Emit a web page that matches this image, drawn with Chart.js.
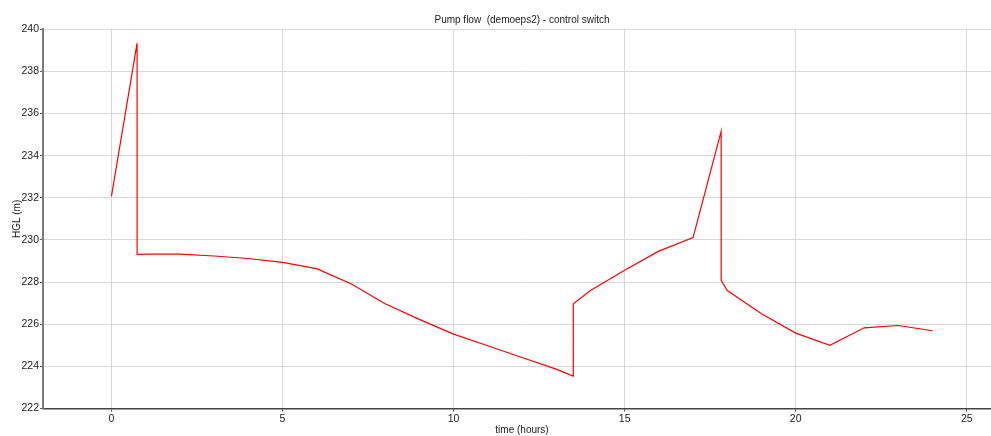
<!DOCTYPE html>
<html>
<head>
<meta charset="utf-8">
<title>Pump flow (demoeps2) - control switch</title>
<script src="https://cdn.jsdelivr.net/npm/chart.js@4/dist/chart.umd.min.js"></script>
<style>
    html, body { margin: 0; padding: 0; background: #fff; overflow: hidden; }
    #hglChart { display: block; }
</style>
</head>
<body>
<canvas id="hglChart" width="1001" height="436"></canvas>
<script>
// Simulation times (hours) and HGL values (m)
const timeHours = [0, 0.75, 0.75, 1, 2, 3, 4, 5, 6, 7, 8, 9, 10, 11, 12, 13, 13.5, 13.5,
    14, 15, 16, 17, 17.82, 17.82, 18, 19, 20, 21, 22, 23, 24];
const hglValues = [232.07, 239.34, 229.32, 229.33, 229.33, 229.24, 229.12, 228.94, 228.64,
    227.92, 226.97, 226.23, 225.53, 224.98, 224.42, 223.87, 223.54, 226.97,
    227.6, 228.56, 229.47, 230.11, 235.16, 228.08, 227.6, 226.5, 225.58, 225.0,
    225.83, 225.94, 225.69];

const xTickValues = [0, 5, 10, 15, 20, 25];
const yTickValues = [222, 224, 226, 228, 230, 232, 234, 236, 238, 240];

const FONT = 'Liberation Sans, Arial, Helvetica, sans-serif';

document.addEventListener('DOMContentLoaded', function() {
    initializeHglChart();
});

function initializeHglChart() {
    const ctx = document.getElementById('hglChart');
    const points = timeHours.map((t, i) => ({ x: t, y: hglValues[i] }));

    new Chart(ctx, {
        type: 'line',
        data: {
            datasets: [{
                label: 'HGL',
                data: points,
                borderColor: '#ff0000',
                borderWidth: 1.2,
                pointRadius: 0,
                tension: 0,
                fill: false
            }]
        },
        options: {
            responsive: false,
            animation: false,
            devicePixelRatio: 1,
            layout: { padding: 0 },
            plugins: {
                legend: { display: false },
                tooltip: { enabled: false },
                title: {
                    display: true,
                    fullSize: false,
                    text: 'Pump flow  (demoeps2) - control switch',
                    color: '#222',
                    font: { family: FONT, size: 10, weight: 'normal' },
                    padding: { top: 14.3, bottom: 3 }
                }
            },
            scales: {
                x: {
                    type: 'linear',
                    min: -2,
                    max: 26,
                    afterBuildTicks: scale => { scale.ticks = xTickValues.map(v => ({ value: v })); },
                    afterFit: scale => { scale.height = 27.5; },
                    border: { color: '#444', width: 1.5 },
                    grid: { color: '#d8d8d8', lineWidth: 1, tickLength: 3, tickColor: '#444' },
                    ticks: {
                        color: '#222',
                        padding: 1,
                        maxRotation: 0,
                        font: { family: FONT, size: 10.5 }
                    },
                    title: {
                        display: true,
                        text: 'time (hours)',
                        color: '#222',
                        font: { family: FONT, size: 10 },
                        padding: { top: 0, bottom: 0 }
                    }
                },
                y: {
                    type: 'linear',
                    min: 222,
                    max: 240,
                    afterBuildTicks: scale => { scale.ticks = yTickValues.map(v => ({ value: v })); },
                    afterFit: scale => { scale.width = 43; },
                    border: { color: '#7a7a7a', width: 2 },
                    grid: { color: '#d8d8d8', lineWidth: 1, tickLength: 3, tickColor: '#555' },
                    ticks: {
                        color: '#222',
                        padding: 1,
                        font: { family: FONT, size: 10.5 }
                    },
                    title: {
                        display: true,
                        text: 'HGL (m)',
                        color: '#222',
                        font: { family: FONT, size: 10 },
                        padding: { top: 11, bottom: 0 }
                    }
                }
            }
        }
    });
}
</script>
</body>
</html>
